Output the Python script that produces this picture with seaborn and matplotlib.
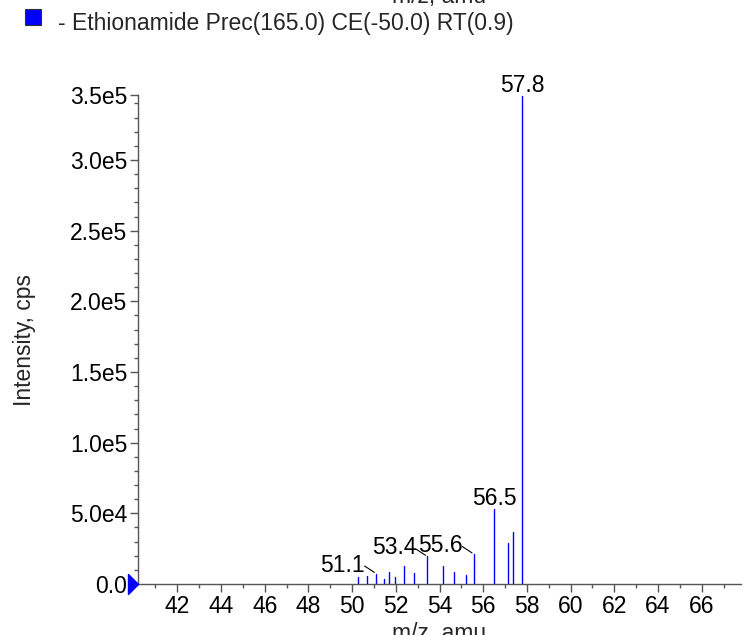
import numpy as np
import pandas as pd
import matplotlib
matplotlib.use("Agg")
import matplotlib.pyplot as plt
import seaborn as sns
from matplotlib.ticker import MultipleLocator, FuncFormatter, FixedLocator
from matplotlib.patches import Rectangle
from matplotlib.path import Path

# ---- data ----
mz = [50.29, 50.67, 51.10, 51.48, 51.71, 51.97, 52.39, 52.81, 53.44,
      54.15, 54.68, 55.20, 55.57, 56.51, 57.13, 57.35, 57.79]
intensity = [5.3e3, 5.9e3, 7.4e3, 3.8e3, 8.8e3, 5.2e3, 12.4e3, 7.6e3, 19.5e3,
             12.4e3, 8.8e3, 6.7e3, 21.2e3, 53.4e3, 29.0e3, 37.1e3, 345e3]
labeled_mz = [51.10, 53.44, 55.57, 56.51, 57.79]
x_ticks = [42, 44, 46, 48, 50, 52, 54, 56, 58, 60, 62, 64, 66]
y_ticks = [0, 5e4, 1e5, 1.5e5, 2e5, 2.5e5, 3e5]
legend_text = "- Ethionamide Prec(165.0) CE(-50.0) RT(0.9)"
x_label = "m/z, amu"
y_label = "Intensity, cps"

# stems as long-form data: one unit per peak, from baseline to top
df = pd.DataFrame({
    "mz": np.repeat(mz, 2),
    "intensity": np.ravel([[0.0, v] for v in intensity]),
    "peak": np.repeat(np.arange(len(mz)), 2),
})

sns.set_theme(style="ticks")
plt.rcParams["font.family"] = ["Liberation Sans", "DejaVu Sans"]

W, H, DPI = 753, 635, 100
FS = 16.5
fig = plt.figure(figsize=(W / DPI, H / DPI), dpi=DPI)
ax = fig.add_axes([138 / W, (H - 584) / H, (741 - 138) / W, (584 - 95) / H])

sns.lineplot(data=df, x="mz", y="intensity", units="peak", estimator=None,
             sort=False, color="#0000FF", lw=1.0, ax=ax, legend=False)

xmin, xmax = 40.2, 67.8
ymax = 3.46e5
ax.set_xlim(xmin, xmax)
ax.set_ylim(0, ymax)

ax.xaxis.set_major_locator(FixedLocator(x_ticks))
ax.xaxis.set_minor_locator(MultipleLocator(1))
ax.yaxis.set_major_locator(FixedLocator(y_ticks + [ymax]))
ax.yaxis.set_minor_locator(MultipleLocator(1e4))


def yfmt(v, pos):
    if v == 0:
        return "0.0"
    e = int(np.floor(np.log10(abs(v))))
    s = f"{v / 10 ** e:.1f}"
    if s == "10.0":
        e += 1
        s = "1.0"
    return f"{s}e{e}"


ax.yaxis.set_major_formatter(FuncFormatter(yfmt))
ax.xaxis.set_major_formatter(FuncFormatter(lambda v, p: f"{v:.0f}"))

ax.set_xlabel("")
ax.set_ylabel("")
for side in ("top", "right"):
    ax.spines[side].set_visible(False)
for side in ("left", "bottom"):
    ax.spines[side].set_color("#555555")
    ax.spines[side].set_linewidth(1.0)

ax.tick_params(which="major", direction="out", length=5.8, width=1.0,
               color="#555555", labelsize=FS, labelcolor="black", pad=2.0)
ax.tick_params(which="minor", direction="out", length=2.9, width=1.0,
               color="#555555")

# peak labels
for m, v in zip(mz, intensity):
    if m not in labeled_mz:
        continue
    lab = f"{m:.1f}"
    if m in (56.51, 57.79):
        ax.annotate(lab, xy=(m, v), xytext=(0, 4), textcoords="offset pixels",
                    ha="center", va="baseline", fontsize=FS, color="black",
                    annotation_clip=False)
    else:
        ax.annotate(lab, xy=(m, v), xytext=(-11, 2), textcoords="offset pixels",
                    ha="right", va="baseline", fontsize=FS, color="black")
        # leader line from the label to the peak top
        ax.annotate("", xy=(m, v), xytext=(-11.5, 7.5),
                    textcoords="offset pixels", xycoords="data",
                    arrowprops=dict(arrowstyle="-", color="black", lw=0.8,
                                    shrinkA=0, shrinkB=1.5))

# blue triangle marker at the origin of the y axis
tri = Path([(-1, -1), (0, 0), (-1, 1), (-1, -1)],
           [Path.MOVETO, Path.LINETO, Path.LINETO, Path.CLOSEPOLY])
ax.plot([xmin], [0], marker=tri, ms=14.4, color="#0000FF", mec="#0000FF",
        clip_on=False, zorder=5)

# axis labels (clipped by the figure edges as in the reference)
cx = (138 + 741) / 2 / W
fig.text(cx, (H - 640) / H, x_label, ha="center", va="baseline", fontsize=FS)
fig.text(cx, 1 - 3 / H, x_label, ha="center", va="baseline", fontsize=FS)
fig.text(25 / W, 1 - 340 / H, y_label, rotation=90, ha="center", va="center",
         fontsize=FS)

# legend entry
fig.add_artist(Rectangle((25 / W, 1 - 25 / H), 16 / W, 16 / H,
                         transform=fig.transFigure, facecolor="#0000FF",
                         edgecolor="#333333", lw=0.8))
fig.text(58 / W, 1 - 30 / H, legend_text, ha="left", va="baseline",
         fontsize=FS)

fig.savefig("out.png", dpi=DPI)
